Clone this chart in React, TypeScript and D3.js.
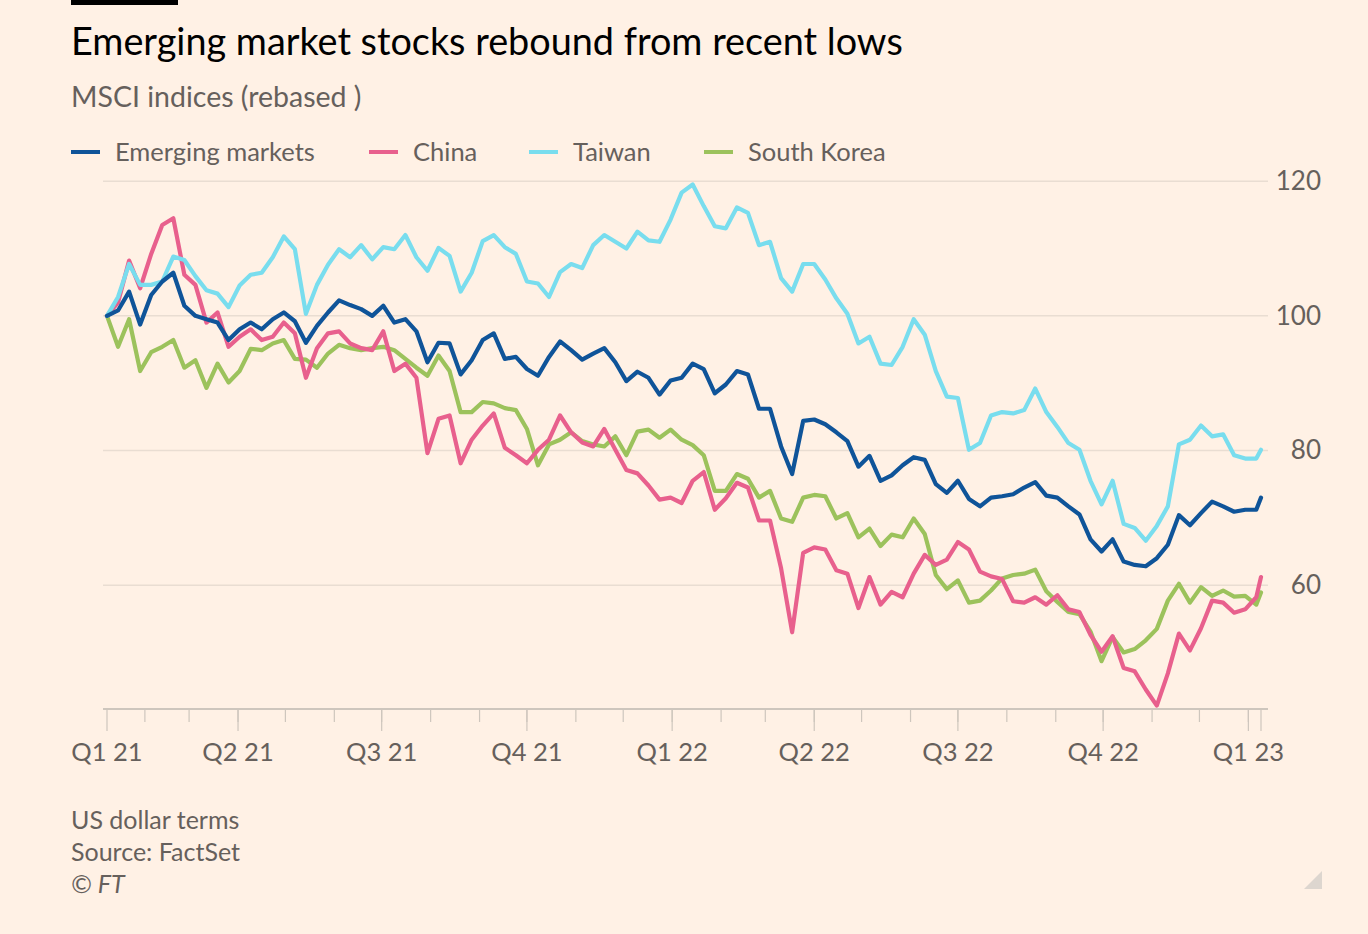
import React, { useEffect } from 'react';
import * as d3 from 'd3';

const dates = [
  '2021-01-08','2021-01-15','2021-01-22','2021-01-29','2021-02-05','2021-02-12','2021-02-19','2021-02-26',
  '2021-03-05','2021-03-12','2021-03-19','2021-03-26','2021-04-02','2021-04-09','2021-04-16','2021-04-23','2021-04-30',
  '2021-05-07','2021-05-14','2021-05-21','2021-05-28','2021-06-04','2021-06-11','2021-06-18','2021-06-25',
  '2021-07-02','2021-07-09','2021-07-16','2021-07-23','2021-07-30','2021-08-06','2021-08-13','2021-08-20','2021-08-27',
  '2021-09-03','2021-09-10','2021-09-17','2021-09-24','2021-10-01','2021-10-08','2021-10-15','2021-10-22','2021-10-29',
  '2021-11-05','2021-11-12','2021-11-19','2021-11-26','2021-12-03','2021-12-10','2021-12-17','2021-12-24','2021-12-31',
  '2022-01-07','2022-01-14','2022-01-21','2022-01-28','2022-02-04','2022-02-11','2022-02-18','2022-02-25',
  '2022-03-04','2022-03-11','2022-03-18','2022-03-25','2022-04-01','2022-04-08','2022-04-15','2022-04-22','2022-04-29',
  '2022-05-06','2022-05-13','2022-05-20','2022-05-27','2022-06-03','2022-06-10','2022-06-17','2022-06-24',
  '2022-07-01','2022-07-08','2022-07-15','2022-07-22','2022-07-29','2022-08-05','2022-08-12','2022-08-19','2022-08-26',
  '2022-09-02','2022-09-09','2022-09-16','2022-09-23','2022-09-30','2022-10-07','2022-10-14','2022-10-21','2022-10-28',
  '2022-11-04','2022-11-11','2022-11-18','2022-11-25','2022-12-02','2022-12-09','2022-12-16','2022-12-23','2022-12-30',
  '2023-01-06','2023-01-09'
];

const emergingMarkets = [
  100, 100.8, 103.6, 98.7, 103.1, 105.1, 106.4, 101.5, 100, 99.5, 99, 96.4, 98, 99, 98, 99.5, 100.5,
  99.2, 96, 98.5, 100.5, 102.3, 101.6, 101, 100, 101.5, 99, 99.5, 97.7, 93.1, 96, 95.9, 91.3, 93.4,
  96.4, 97.4, 93.6, 93.9, 92.1, 91.1, 93.9, 96.2, 94.9, 93.5, 94.4, 95.2, 93.1, 90.3, 91.7, 90.8, 88.3, 90.4,
  90.8, 92.9, 92.1, 88.5, 89.8, 91.8, 91.3, 86.2, 86.2, 80.6, 76.5, 84.4, 84.6, 83.9, 82.7, 81.4, 77.6,
  79.2, 75.5, 76.3, 77.8, 79, 78.6, 75, 73.7, 75.5, 72.8, 71.7, 73, 73.2, 73.5, 74.5, 75.3, 73.3, 73,
  71.7, 70.5, 66.8, 65, 66.8, 63.5, 63, 62.8, 64, 66, 70.4, 68.9, 70.7, 72.4, 71.7, 70.9, 71.2, 71.2, 73
];

const china = [
  100, 102, 108.2, 104.1, 109.2, 113.5, 114.5, 106.1, 104.6, 99, 100.5, 95.4, 96.9, 98, 96.4, 96.9, 99,
  97.4, 90.8, 95.2, 97.4, 97.7, 95.9, 95.2, 94.9, 97.7, 91.8, 92.9, 90.8, 79.6, 84.7, 85.2, 78.1, 81.6,
  83.7, 85.5, 80.4, 79.3, 78.1, 80.1, 81.6, 85.2, 82.7, 81.2, 80.6, 83.2, 80.1, 77.1, 76.6, 74.8, 72.7, 73,
  72.2, 75.5, 76.8, 71.2, 72.9, 75.2, 74.5, 69.6, 69.6, 62.5, 53, 64.8, 65.6, 65.3, 62.2, 61.7, 56.6,
  61.2, 57.1, 59, 58.2, 61.7, 64.5, 63, 63.8, 66.4, 65.3, 62, 61.3, 60.9, 57.6, 57.4, 58.2, 57.1, 58.5,
  56.4, 56, 52.6, 50.1, 52.4, 47.7, 47.2, 44.5, 42.1, 46.9, 52.8, 50.3, 53.6, 57.7, 57.4, 55.9, 56.4, 58.2, 61.2
];

const taiwan = [
  100, 102.8, 107.7, 104.6, 104.6, 105.1, 108.8, 108.3, 105.9, 103.8, 103.3, 101.3, 104.5, 106.1, 106.4, 108.7, 111.8,
  109.9, 100.3, 104.6, 107.6, 109.9, 108.7, 110.5, 108.4, 110.2, 109.9, 112, 108.7, 106.7, 110.1, 108.9, 103.6, 106.4,
  111.1, 112, 110.2, 109.2, 105.1, 104.8, 102.8, 106.5, 107.7, 107.1, 110.5, 112, 111, 110, 112.5, 111.2, 111, 114.3,
  118.3, 119.5, 116.3, 113.3, 113, 116.1, 115.3, 110.5, 111, 105.6, 103.6, 107.7, 107.7, 105.4, 102.6, 100.3, 95.9,
  96.9, 92.9, 92.7, 95.4, 99.5, 97.2, 91.8, 88, 87.8, 80.1, 81.1, 85.2, 85.7, 85.5, 86, 89.2, 85.7, 83.5,
  81.1, 80.1, 75.5, 72, 75.5, 69.1, 68.5, 66.6, 68.8, 71.7, 80.9, 81.6, 83.7, 82.1, 82.4, 79.3, 78.8, 78.8, 80.1
];

const southKorea = [
  100, 95.4, 99.5, 91.8, 94.6, 95.4, 96.4, 92.3, 93.4, 89.3, 92.9, 90.1, 91.8, 95.1, 94.9, 95.9, 96.4,
  93.6, 93.5, 92.3, 94.4, 95.7, 95.2, 94.9, 95.2, 95.4, 94.9, 93.6, 92.3, 91.1, 94.1, 91.8, 85.7, 85.7,
  87.2, 87, 86.3, 86, 83.2, 77.8, 80.9, 81.6, 82.7, 81.4, 80.9, 80.6, 82.1, 79.3, 82.8, 83.1, 81.9, 83.1,
  81.6, 80.8, 79.3, 74, 74, 76.5, 75.8, 73, 74, 69.9, 69.4, 73, 73.4, 73.2, 69.9, 70.7, 67.1,
  68.4, 65.8, 67.5, 67.1, 69.9, 67.6, 61.5, 59.4, 60.7, 57.4, 57.7, 59.2, 61, 61.5, 61.7, 62.3, 59.1, 57.5,
  56, 55.7, 53.1, 48.7, 52.3, 50, 50.5, 51.8, 53.5, 57.7, 60.2, 57.4, 59.7, 58.4, 59.2, 58.3, 58.4, 57.1, 58.9
];

const seriesNames = ['Emerging markets', 'China', 'Taiwan', 'South Korea'];
const seriesColors = ['#0f5499', '#e8608d', '#79ddee', '#9cc25c'];
const yTicks = [60, 80, 100, 120];
const quarterDates = ['2021-01-08', '2021-04-01', '2021-07-01', '2021-10-01', '2022-01-01', '2022-04-01', '2022-07-01', '2022-10-01', '2023-01-01'];
const quarterLabels = ['Q1 21', 'Q2 21', 'Q3 21', 'Q4 21', 'Q1 22', 'Q2 22', 'Q3 22', 'Q4 22', 'Q1 23'];
const domainStart = '2021-01-08';
const domainEnd = '2023-01-09';

const FONT = 'Lato, "Noto Sans", sans-serif';
const GREY = '#66605c';

export default function App() {
  useEffect(() => {
    document.body.style.margin = '0';
  }, []);

  const parse = d3.utcParse('%Y-%m-%d');
  const x = d3.scaleUtc().domain([parse(domainStart)!, parse(domainEnd)!]).range([107, 1261]);
  const y = d3.scaleLinear().domain([41.6, 120]).range([709, 181.2]);
  const parsed = dates.map((d) => parse(d)!);
  const allSeries = [emergingMarkets, china, taiwan, southKorea];
  const line = d3
    .line<number>()
    .x((_, i) => x(parsed[i]))
    .y((v) => y(v));

  const monthTicks = d3.utcMonth.range(parse('2021-02-01')!, parse('2023-01-02')!);
  const majorTicks = quarterDates.map((d) => parse(d)!).concat([parse(domainEnd)!]);
  const drawOrder = [3, 1, 2, 0];
  const legendX = [71, 369, 529, 704];

  return (
    <div style={{ position: 'absolute', left: 0, top: 0 }}>
      <svg width={1368} height={934} style={{ display: 'block' }} fontFamily={FONT}>
        <rect x={0} y={0} width={1368} height={934} fill="#fff1e5" />
        <rect x={71} y={0} width={107} height={5} fill="#000" />
        <text x={71} y={55} fontSize={37.8} fill="#000">Emerging market stocks rebound from recent lows</text>
        <text x={71} y={107} fontSize={28.5} fill={GREY}>MSCI indices (rebased )</text>
        {seriesNames.map((name, i) => (
          <g key={name}>
            <line x1={legendX[i]} x2={legendX[i] + 29} y1={152} y2={152} stroke={seriesColors[i]} strokeWidth={4} />
            <text x={legendX[i] + 44} y={161} fontSize={25.5} fill={GREY}>{name}</text>
          </g>
        ))}
        {yTicks.map((t) => (
          <g key={t}>
            <line x1={103} x2={1268} y1={y(t)} y2={y(t)} stroke="#e9ddd2" strokeWidth={1.5} />
            <text x={1321} y={y(t) + 9} fontSize={26} fill={GREY} textAnchor="end">{t}</text>
          </g>
        ))}
        <line x1={103} x2={1268} y1={709} y2={709} stroke="#cec6bd" strokeWidth={2} />
        {monthTicks.map((d, i) => (
          <line key={'m' + i} x1={x(d)} x2={x(d)} y1={709} y2={722} stroke="#cec6bd" strokeWidth={1.2} />
        ))}
        {majorTicks.map((d, i) => (
          <line key={'q' + i} x1={x(d)} x2={x(d)} y1={709} y2={731} stroke="#cec6bd" strokeWidth={1.2} />
        ))}
        {quarterDates.map((d, i) => (
          <text key={'l' + i} x={x(parse(d)!)} y={761} fontSize={25.5} fill={GREY} textAnchor="middle">
            {quarterLabels[i]}
          </text>
        ))}
        {drawOrder.map((k) => (
          <path
            key={seriesNames[k]}
            d={line(allSeries[k]) || ''}
            fill="none"
            stroke={seriesColors[k]}
            strokeWidth={4.2}
            strokeLinejoin="round"
            strokeLinecap="round"
          />
        ))}
        <text x={71} y={829} fontSize={25} fill={GREY}>US dollar terms</text>
        <text x={71} y={861} fontSize={25} fill={GREY}>Source: FactSet</text>
        <text x={71} y={893} fontSize={25} fill={GREY} fontStyle="italic">© FT</text>
        <path d="M1322,871 L1322,889 L1304,889 Z" fill="#ddd6cf" />
      </svg>
    </div>
  );
}
